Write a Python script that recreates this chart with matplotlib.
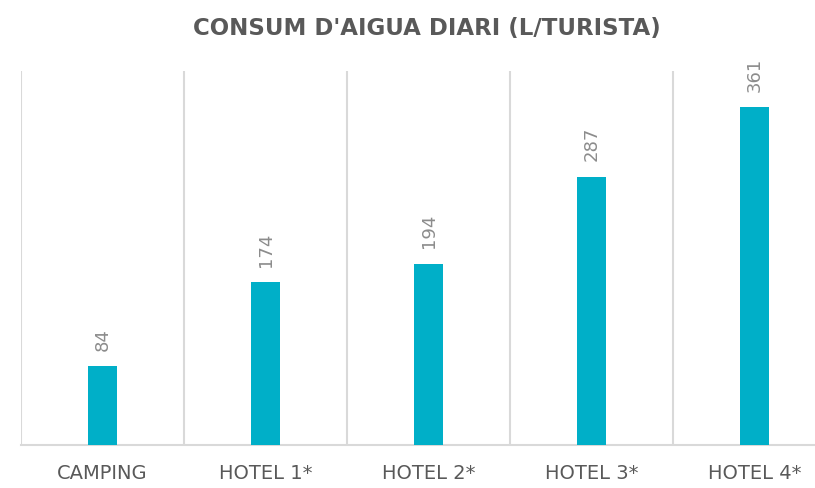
import matplotlib
matplotlib.use("Agg")
import matplotlib.pyplot as plt
import numpy as np

categories = ["CAMPING", "HOTEL 1*", "HOTEL 2*", "HOTEL 3*", "HOTEL 4*"]
values = [84, 174, 194, 287, 361]

BAR = "#00AFC8"
INK = "#595959"
LABEL = "#8c8c8c"
GRID = "#d9d9d9"

W, H = 815, 489
fig = plt.figure(figsize=(W / 100, H / 100), dpi=100)
# plot area runs past the right edge, as in the reference
ax = fig.add_axes([21 / W, (H - 446) / H, (836 - 21) / W, (446 - 72) / H])

x = np.arange(len(categories))
ax.bar(x, values, width=0.184, color=BAR, zorder=3)
ax.set_xlim(-0.5, len(categories) - 0.5)
ax.set_ylim(0, 400)

for b in np.arange(-0.5, len(categories), 1.0):
    ax.axvline(b, color=GRID, linewidth=1.5, zorder=1)

for xi, v in zip(x, values):
    ax.annotate(str(v), xy=(xi, v), xytext=(0, 12), textcoords="offset points",
                rotation=90, ha="center", va="bottom", color=LABEL,
                fontsize=13, family="DejaVu Sans", annotation_clip=False)

for s in ("top", "right", "left"):
    ax.spines[s].set_visible(False)
ax.spines["bottom"].set_color(GRID)
ax.spines["bottom"].set_linewidth(1.5)
ax.set_yticks([])
ax.set_xticks(x)
ax.set_xticklabels(categories, color=INK, fontsize=14, family="DejaVu Sans")
ax.tick_params(axis="x", length=0, pad=13)

fig.text(427 / W, 1 - 28 / H, "CONSUM D'AIGUA DIARI (L/TURISTA)", ha="center",
         va="center", color=INK, fontsize=16.5, fontweight="bold",
         family="DejaVu Sans")

fig.savefig("out.png", dpi=100)
